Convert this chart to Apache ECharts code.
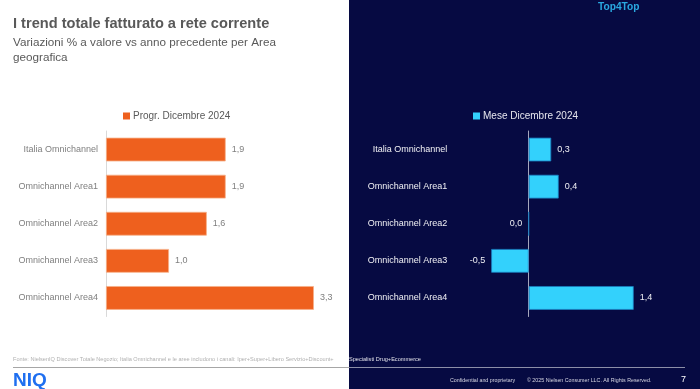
<!DOCTYPE html>
<html><head><meta charset="utf-8">
<script src="https://cdn.jsdelivr.net/npm/echarts@6/dist/echarts.min.js"></script>
<style>html,body{margin:0;padding:0;background:#fff}#c{width:700px;height:389px}</style>
</head><body><div id="c"></div>
<script>
const categories = ['Italia Omnichannel','Omnichannel Area1','Omnichannel Area2','Omnichannel Area3','Omnichannel Area4'];
const progrValues = [1.9, 1.9, 1.6, 1.0, 3.3];
const meseValues = [0.3, 0.4, 0.0, -0.5, 1.4];
const progrName = 'Progr. Dicembre 2024';
const meseName = 'Mese Dicembre 2024';

const FONT = '"Liberation Sans", Arial, sans-serif';
const NAVY = '#060a42';
const fmt = v => (typeof v === 'object' ? v.value : v).toFixed(1).replace('.', ',');

const chart = echarts.init(document.getElementById('c'), null, {renderer: 'canvas'});
chart.setOption({
  animation: false,
  textStyle: {fontFamily: FONT},
  graphic: [
    {type: 'rect', z: -10, shape: {x: 349, y: 0, width: 351, height: 389}, style: {fill: NAVY}},
    {type: 'line', z: -5, shape: {x1: 13, y1: 367.5, x2: 349, y2: 367.5}, style: {stroke: '#a6a6a6', lineWidth: 1.2}},
    {type: 'line', z: -5, shape: {x1: 349, y1: 367.5, x2: 685, y2: 367.5}, style: {stroke: '#8c8fa8', lineWidth: 1.2}},
    {type: 'text', left: 13, top: 16, style: {text: 'I trend totale fatturato a rete corrente', font: 'bold 14.6px ' + FONT, fill: '#595959'}},
    {type: 'text', left: 13, top: 35, style: {text: 'Variazioni % a valore vs anno precedente per Area\ngeografica', font: '11.7px ' + FONT, fill: '#595959', lineHeight: 15}},
    {type: 'text', left: 598, top: 2, style: {text: 'Top4Top', font: 'bold 10.2px ' + FONT, fill: '#2aa8e0'}},
    {type: 'text', left: 13, top: 356, style: {text: 'Fonte: NielsenIQ Discover Totale Negozio; Italia Omnichannel e le aree includono i canali: Iper+Super+Libero Servizio+Discount+', font: '5.6px ' + FONT, fill: '#b0b0b0'}},
    {type: 'text', left: 349, top: 356, style: {text: 'Specialisti Drug+Ecommerce', font: '5.6px ' + FONT, fill: '#e0e0e8'}},
    {type: 'text', left: 13, top: 371, style: {text: 'NIQ', font: 'bold 19px ' + FONT, fill: '#1f6ff0'}},
    {type: 'text', left: 450, top: 378, style: {text: 'Confidential and proprietary', font: '5.3px ' + FONT, fill: '#d8d8e4'}},
    {type: 'text', left: 527, top: 378, style: {text: '\u00a9 2025 Nielsen Consumer LLC. All Rights Reserved.', font: '5.3px ' + FONT, fill: '#d8d8e4'}},
    {type: 'text', left: 681, top: 375, style: {text: '7', font: '9px ' + FONT, fill: '#ffffff'}}
  ],
  legend: [
    {data: [progrName], left: 123, top: 111, padding: 0, icon: 'rect', itemWidth: 7, itemHeight: 7, itemGap: 4,
     itemStyle: {borderWidth: 0},
     textStyle: {fontSize: 10, color: '#595959', fontFamily: FONT, padding: [0,0,0,-2]}},
    {data: [meseName], left: 473, top: 111, padding: 0, icon: 'rect', itemWidth: 7, itemHeight: 7, itemGap: 4,
     itemStyle: {borderWidth: 0},
     textStyle: {fontSize: 10, color: '#e6e6ee', fontFamily: FONT, padding: [0,0,0,-2]}}
  ],
  grid: [
    {left: 106, top: 131, width: 220.5, height: 185.5, containLabel: false},
    {left: 453.7, top: 131, width: 187.5, height: 185.5, containLabel: false}
  ],
  xAxis: [
    {gridIndex: 0, type: 'value', min: 0, max: 3.5, show: false},
    {gridIndex: 1, type: 'value', min: -1, max: 1.5, show: false}
  ],
  yAxis: [
    {gridIndex: 0, type: 'category', data: categories, inverse: true,
     axisLine: {lineStyle: {color: '#d9d9d9'}}, axisTick: {show: false},
     axisLabel: {fontSize: 9, color: '#7f7f7f', margin: 8, fontFamily: FONT}},
    {gridIndex: 1, type: 'category', data: categories, inverse: true,
     axisLine: {onZero: true, lineStyle: {color: '#a5a7bd'}}, axisTick: {show: false},
     axisLabel: {fontSize: 9, color: '#f0f0f4', margin: 6.5, fontFamily: FONT}}
  ],
  series: [
    {name: progrName, type: 'bar', xAxisIndex: 0, yAxisIndex: 0, data: progrValues, barWidth: '64%',
     itemStyle: {color: '#ee601e', borderColor: '#f6b089', borderWidth: 0.8},
     label: {show: true, position: 'right', distance: 6, fontSize: 9, color: '#7f7f7f', formatter: p => fmt(p.value)}},
    {name: meseName, type: 'bar', xAxisIndex: 1, yAxisIndex: 1, barWidth: '64%',
     data: meseValues.map(v => ({value: v, label: {position: v > 0 ? 'right' : 'left'}})),
     itemStyle: {color: '#33d1fc', borderColor: '#1a7dc0', borderWidth: 0.8},
     label: {show: true, distance: 6, fontSize: 9, color: '#f0f0f4', formatter: p => fmt(p.value)}}
  ]
});
</script></body></html>
